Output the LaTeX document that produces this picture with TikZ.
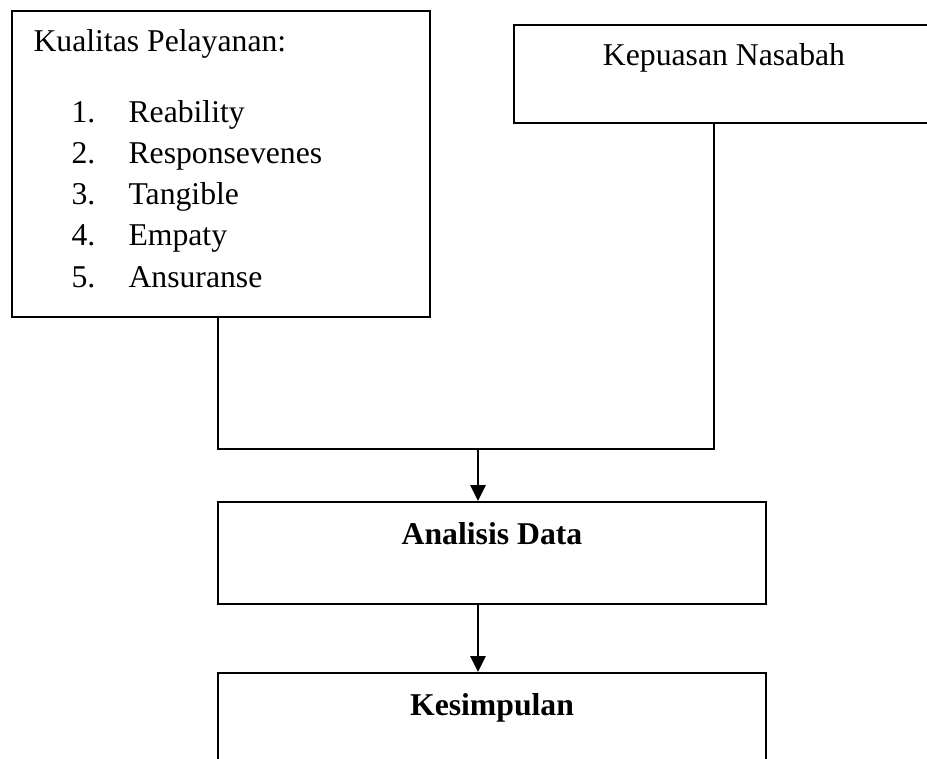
\documentclass[tikz,border=0pt]{standalone}
\usepackage{fontspec}
\setmainfont{Liberation Serif}
\usetikzlibrary{arrows.meta}
\begin{document}
\begin{tikzpicture}[x=0.3785pt, y=-0.3785pt, line join=miter, >={Triangle[length=6pt,width=5.7pt]}, font=\fontsize{12}{14}\selectfont]
			\tikzset{frame/.style={draw, line width=0.8pt, inner sep=0pt}, txt/.style={inner sep=0pt, anchor=base}}
			\def\u{0.3785pt}
			\useasboundingbox (0,0) rectangle (927,758);
			\clip (0,0) rectangle (927,758);
			\node[frame, minimum width=418*\u, minimum height=306*\u] (kualitas) at (221,164) {};
			\node[frame, minimum width=420*\u, minimum height=98*\u] (kepuasan) at (724,74) {};
			\node[frame, minimum width=548*\u, minimum height=102*\u] (analisis) at (492,553) {};
			\node[frame, minimum width=548*\u, minimum height=102*\u] (kesimpulan) at (492,724) {};
			\node[txt, anchor=base west] (judul) at (33,51) {Kualitas Pelayanan:};
			\foreach \i/\t in {1/Reability,2/Responsevenes,3/Tangible,4/Empaty,5/Ansuranse}{
				\node[txt, anchor=base west] (no\i) at (71,{122+41.3*(\i-1)}) {\i.};
				\node[txt, anchor=base west] (item\i) at (128,{122+41.3*(\i-1)}) {\t};}
			\node[txt] (kepuasanT) at (724,65) {Kepuasan Nasabah};
			\node[txt] (analisisT) at (492,544) {\bfseries Analisis Data};
			\node[txt] (kesimpulanT) at (492,715) {\bfseries Kesimpulan};
			\coordinate (join) at (478,449);
			\draw[line width=0.8pt] ([xshift=-3*\u]kualitas.south) |- (join) -| ([xshift=-10*\u]kepuasan.south);
			\draw[->, line width=0.9pt] (join) -- (join |- analisis.north);
			\draw[->, line width=0.9pt] (join |- analisis.south) -- (join |- kesimpulan.north);
		\end{tikzpicture}
\end{document}
